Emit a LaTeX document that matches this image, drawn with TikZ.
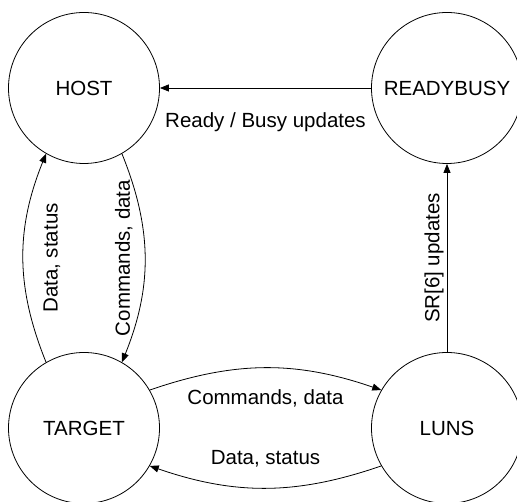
\documentclass[tikz,border=0pt]{standalone}
\usepackage{fontspec}
\setmainfont{Liberation Sans}
\usetikzlibrary{arrows.meta}

\begin{document}
\begin{tikzpicture}[x=1pt, y=1pt,
    every node/.style={font=\fontsize{20.5}{24}\selectfont},
    unit/.style={circle, draw, line width=0.8pt, minimum size=151pt, inner sep=0pt},
    flow/.style={line width=0.8pt, -{Triangle[length=9pt, width=7pt]}},
    tag/.style={inner sep=0pt}]
  \useasboundingbox (0,0) rectangle (517,502);
  \node[unit] (host)      at (84,414)  {HOST};
  \node[unit] (readybusy) at (447,414) {READYBUSY};
  \node[unit] (target)    at (84,74)   {TARGET};
  \node[unit] (luns)      at (447,74)  {LUNS};

  \draw[flow] (readybusy.west) -- node[tag, anchor=north, yshift=-24pt] {Ready / Busy updates} (host.east);
  \draw[flow] (luns.north) -- node[tag, xshift=-3pt, rotate=90, anchor=south] {SR[6] updates} (readybusy.south);
  \draw[flow] (target.120) to[out=112, in=-112] node[tag, xshift=20pt, rotate=90, anchor=north] {Data, status} (host.240);
  \draw[flow] (host.-60) to[out=-68, in=68] node[tag, xshift=-12pt, rotate=90, anchor=south] {Commands, data} (target.60);
  \draw[flow] (target.30) to[out=19, in=161] node[tag, anchor=north, yshift=-21pt] {Commands, data} (luns.150);
  \draw[flow] (luns.210) to[out=-161, in=-19] node[tag, anchor=south, yshift=20pt] {Data, status} (target.-30);
\end{tikzpicture}
\end{document}
